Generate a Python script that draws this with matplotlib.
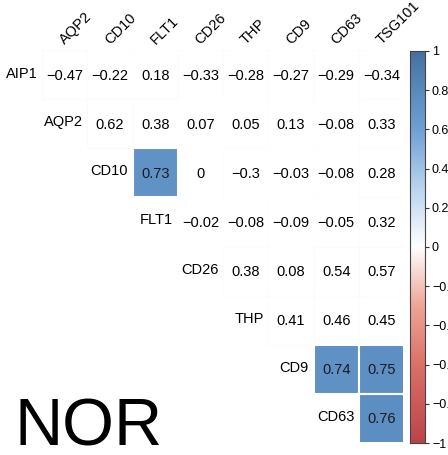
import matplotlib
matplotlib.use("Agg")
import matplotlib.pyplot as plt
import numpy as np
from matplotlib.colors import LinearSegmentedColormap, to_rgb
from matplotlib.patches import Rectangle

plt.rcParams['font.family'] = ['Liberation Sans', 'DejaVu Sans']

# Variables of the correlation matrix (upper triangle, diagonal removed)
row_labels = ['AIP1', 'AQP2', 'CD10', 'FLT1', 'CD26', 'THP', 'CD9', 'CD63']
col_labels = ['AQP2', 'CD10', 'FLT1', 'CD26', 'THP', 'CD9', 'CD63', 'TSG101']

corr_aip1 = [-0.47, -0.22, 0.18, -0.33, -0.28, -0.27, -0.29, -0.34]
corr_aqp2 = [0.62, 0.38, 0.07, 0.05, 0.13, -0.08, 0.33]
corr_cd10 = [0.73, 0.00, -0.30, -0.03, -0.08, 0.28]
corr_flt1 = [-0.02, -0.08, -0.09, -0.05, 0.32]
corr_cd26 = [0.38, 0.08, 0.54, 0.57]
corr_thp = [0.41, 0.46, 0.45]
corr_cd9 = [0.74, 0.75]
corr_cd63 = [0.76]
corr_rows = [corr_aip1, corr_aqp2, corr_cd10, corr_flt1,
             corr_cd26, corr_thp, corr_cd9, corr_cd63]

# Significant pairs (row variable, column variable) get a filled cell
significant = [('CD10', 'FLT1'), ('CD9', 'CD63'), ('CD9', 'TSG101'), ('CD63', 'TSG101')]

group_label = 'NOR'

cmap = LinearSegmentedColormap.from_list('corr', [
    (0.00, '#BD434B'),
    (0.20, '#DC7168'),
    (0.35, '#EFA597'),
    (0.50, '#FFFFFF'),
    (0.65, '#B9D3EE'),
    (0.80, '#6E9FD4'),
    (0.875, '#5E90C3'),
    (1.00, '#44709F'),
])

W, H = 448, 455
fig = plt.figure(figsize=(W / 100, H / 100), dpi=100)

gx0, gx1, gy0, gy1 = 42, 404, 50, 443
ax = fig.add_axes([gx0 / W, 1 - gy1 / H, (gx1 - gx0) / W, (gy1 - gy0) / H])
n = len(col_labels)
ax.set_xlim(0, n)
ax.set_ylim(n, 0)
ax.axis('off')


def fmt(v):
    s = f"{v:.2f}".rstrip('0').rstrip('.')
    if s in ('-0', ''):
        s = '0'
    return s.replace('-', '\u2212')


for i, (rname, vals) in enumerate(zip(row_labels, corr_rows)):
    start = n - len(vals)
    for k, v in enumerate(vals):
        j = start + k
        cname = col_labels[j]
        c = np.array(to_rgb(cmap((v + 1) / 2)))
        if (rname, cname) in significant:
            ax.add_patch(Rectangle((j, i), 1, 1, facecolor=c, edgecolor='white',
                                   linewidth=1.5, zorder=2))
            tcol = '#1a1a22'
        else:
            edge = 1 - (1 - c) * 0.045
            ax.add_patch(Rectangle((j, i), 1, 1, facecolor='white',
                                   edgecolor=edge, linewidth=0.8, zorder=1))
            tcol = 'black'
        ax.text(j + 0.5, i + 0.52, fmt(v), ha='center', va='center',
                fontsize=10.5, color=tcol, zorder=3)
    # row label sits on the diagonal position
    if i == 0:
        ax.text(-0.1, 0.48, rname, ha='right', va='center', fontsize=10.5)
    else:
        ax.text(i - 0.1, i + 0.47, rname, ha='right', va='center', fontsize=10.5)

for j, cname in enumerate(col_labels):
    ax.text(j + 0.55, -0.06, cname, ha='left', va='bottom', rotation=45,
            rotation_mode='anchor', fontsize=10.5, clip_on=False)

# Colour legend
cx0, cx1 = 410, 425
cax = fig.add_axes([cx0 / W, 1 - 443 / H, (cx1 - cx0) / W, (443 - 51) / H])
grad = np.linspace(-1, 1, 256).reshape(-1, 1)
cax.imshow(grad, aspect='auto', cmap=cmap, origin='lower', extent=[0, 1, -1, 1],
           vmin=-1, vmax=1)
cax.set_xticks([])
cax.yaxis.tick_right()
ticks = np.round(np.arange(-1, 1.01, 0.2), 1)
cax.set_yticks(ticks)
cax.set_yticklabels([fmt(t) if abs(t) > 1e-9 else '0' for t in ticks], fontsize=9)
cax.tick_params(axis='y', length=3, width=0.8, color='#333333', pad=2)
for sp in cax.spines.values():
    sp.set_color('#444444')
    sp.set_linewidth(0.8)

fig.text(14 / W, 1 - 445 / H, group_label, fontsize=48, ha='left', va='baseline')

fig.savefig('out.png', dpi=100)
